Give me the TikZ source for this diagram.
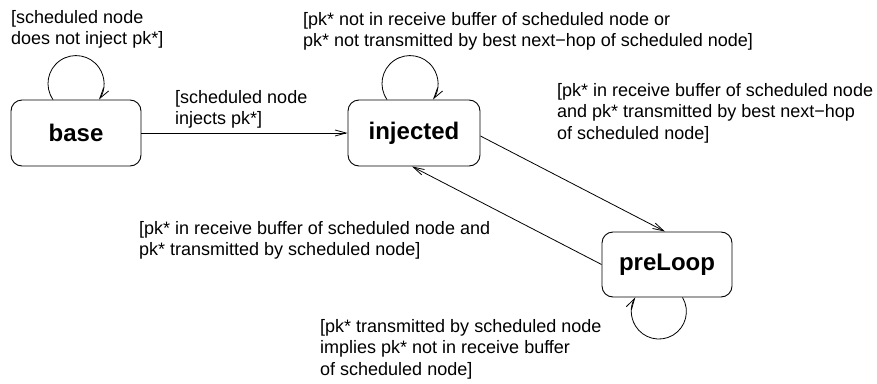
\documentclass[tikz,border=0pt]{standalone}
\usepackage{fontspec}
\setmainfont{Liberation Sans}
\usetikzlibrary{arrows.meta}
\begin{document}
\begin{tikzpicture}[x=1pt,y=1pt,
  state/.style={draw, line width=0.9pt, rounded corners=11pt, minimum width=130pt,
    minimum height=66pt, inner sep=0pt, font=\fontsize{24}{28}\selectfont\bfseries},
  guard/.style={anchor=north west, inner sep=0pt, align=left,
    font=\fontsize{18}{21.5}\selectfont},
  trans/.style={line width=0.8pt, -{Straight Barb[length=11pt,width=6pt,line width=0.8pt]}}]
\useasboundingbox (0,0) rectangle (877,-383);

% states
\node[state] (base) at (76,-133) {base};
\node[state, minimum width=132pt] (injected) at (414,-133) {injected};
\node[state, minimum height=65pt] (preLoop) at (667,-264.5) {preLoop};

% guards
\node[guard] (gBase) at (11,-10) {[scheduled node\\does not inject pk*]};
\node[guard] (gInject) at (175,-90) {[scheduled node\\injects pk*]};
\node[guard] (gInjLoop) at (303,-12) {[pk* not in receive buffer of scheduled node or\\pk* not transmitted by best next−hop of scheduled node]};
\node[guard] (gToPre) at (557,-83) {[pk* in receive buffer of scheduled node\\and pk* transmitted by best next−hop\\of scheduled node]};
\node[guard] (gBack) at (139,-221) {[pk* in receive buffer of scheduled node and\\pk* transmitted by scheduled node]};
\node[guard] (gPreLoop) at (320,-319) {[pk* transmitted by scheduled node\\implies pk* not in receive buffer\\of scheduled node]};

% transitions
\draw[trans] (base.east) -- (injected.west);
\draw[trans] ([yshift=-3pt]injected.east) -- ([xshift=-2pt]preLoop.north);
\draw[trans] (preLoop.west) -- ([xshift=-2pt]injected.south);

% self loops
\draw[trans] ([xshift=-23pt]base.north) arc[start angle=214.8, end angle=-34.8, radius=28pt];
\draw[trans] ([xshift=-27pt]injected.north) arc[start angle=214.8, end angle=-34.8, radius=28pt];
\draw[trans] ([xshift=15.5pt]preLoop.south) arc[start angle=30.8, end angle=-210.8, radius=27.5pt];
\end{tikzpicture}
\end{document}
